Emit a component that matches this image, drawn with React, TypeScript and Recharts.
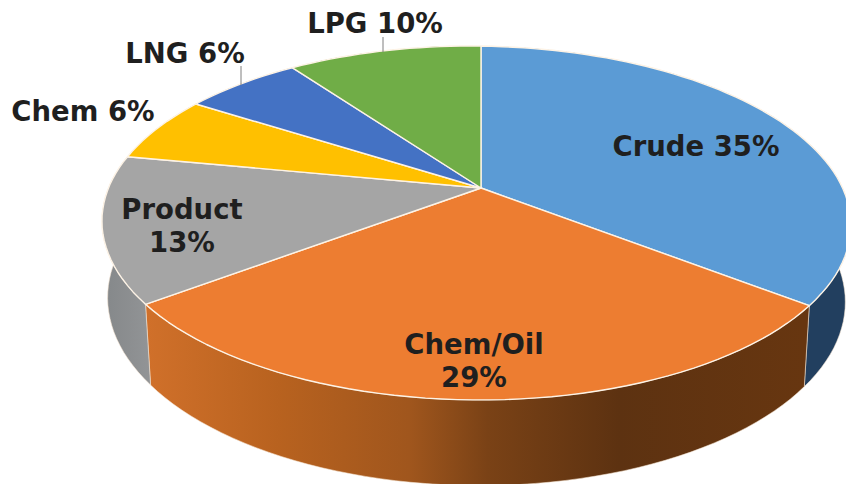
import React from 'react';
import { PieChart, Pie, Cell } from 'recharts';

const names = ['Crude', 'Chem/Oil', 'Product', 'Chem', 'LNG', 'LPG'];
const shares = [35, 29, 13, 6, 6, 10];
const topColors = ['#5b9bd5', '#ed7d31', '#a5a5a5', '#ffc000', '#4472c4', '#70ad47'];
const wallColors = ['#223f5f', 'url(#orangeWall)', 'url(#grayWall)', '#997300', '#264478', '#43682b'];

const chartData = names.map((name, i) => ({ name, value: shares[i] }));

// where each label sits, the original placed them by hand
const labelSpots = [
  { x: 696, y: 146, lines: ['Crude 35%'] },
  { x: 474, y: 344, lines: ['Chem/Oil', '29%'] },
  { x: 182, y: 209, lines: ['Product', '13%'] },
  { x: 83, y: 111, lines: ['Chem 6%'] },
  { x: 185, y: 53, lines: ['LNG 6%'] },
  { x: 375, y: 23, lines: ['LPG 10%'] },
];
const leaders: Record<number, number[]> = {
  4: [241, 66, 241, 85],
  5: [383, 37, 383, 52],
};

// tilted disc: far side shrinks, near side grows, right side a little smaller than left
const TILT = 0.198;
const SIDE_TILT = 0.012;
const DEPTH = 0.4632;
const SHEAR = 2.5;
const WALL = 75;
const WALL_SCALE = 0.985;
const WALL_STRETCH = 1.05;

const project = (cx: number, cy: number, r: number, deg: number) => {
  const a = (deg * Math.PI) / 180;
  const u = Math.cos(a);
  const v = Math.sin(a);
  const w = 1 + TILT * v + SIDE_TILT * u;
  return [cx + (r * u) / w, cy - (r * DEPTH * v) / w + SHEAR * u];
};

const arcPoints = (props: any, scaleX: number, scaleY: number, dy: number) => {
  const { cx, cy, outerRadius, startAngle, endAngle } = props;
  const pts: number[][] = [];
  const steps = Math.max(4, Math.ceil(Math.abs(endAngle - startAngle) / 2));
  for (let i = 0; i <= steps; i++) {
    const deg = startAngle + ((endAngle - startAngle) * i) / steps;
    const [x, y] = project(cx, cy, outerRadius, deg);
    pts.push([cx + (x - cx) * scaleX, cy + (y - cy) * scaleY + dy]);
  }
  return pts;
};

const toPath = (pts: number[][]) => pts.map((p, i) => `${i ? 'L' : 'M'}${p[0].toFixed(1)} ${p[1].toFixed(1)}`).join(' ');

const TopFace = (props: any) => {
  const d = `M${props.cx} ${props.cy} ${toPath(arcPoints(props, 1, 1, 0)).replace('M', 'L')} Z`;
  return <path d={d} fill={props.fill} stroke="#fdf3e6" strokeWidth={1.4} strokeLinejoin="round" />;
};

const SideWall = (props: any) => {
  const upper = arcPoints(props, 1, 1, 0);
  const lower = arcPoints(props, WALL_SCALE, WALL_STRETCH, WALL).reverse();
  const d = `${toPath(upper)} ${toPath(lower).replace('M', 'L')} Z`;
  return <path d={d} fill={props.fill} stroke="#f6e6d4" strokeWidth={0.8} strokeOpacity={0.7} strokeLinejoin="round" />;
};

const renderLabel = ({ index }: any) => {
  const spot = labelSpots[index];
  const line = leaders[index];
  return (
    <g key={names[index]}>
      {line && <line x1={line[0]} y1={line[1]} x2={line[2]} y2={line[3]} stroke="#7f7f7f" strokeWidth={1} />}
      {spot.lines.map((t, i) => (
        <text
          key={t}
          x={spot.x}
          y={spot.y + i * 33}
          textAnchor="middle"
          dominantBaseline="central"
          fontFamily="'DejaVu Sans', Verdana, sans-serif"
          fontWeight="bold"
          fontSize={27.5}
          fill="#1f1f1f"
        >
          {t}
        </text>
      ))}
    </g>
  );
};

export default function App() {
  return (
    <div style={{ position: 'absolute', left: 0, top: 0, width: 846, height: 484, overflow: 'hidden', background: '#fff' }}>
      <PieChart width={846} height={484} margin={{ top: 0, right: 0, bottom: 0, left: 0 }}>
        <defs>
          <linearGradient id="orangeWall" gradientUnits="userSpaceOnUse" x1="147" y1="0" x2="802" y2="0">
            <stop offset="0%" stopColor="#d0702a" />
            <stop offset="20%" stopColor="#b8621f" />
            <stop offset="40%" stopColor="#a0561d" />
            <stop offset="52%" stopColor="#7a4216" />
            <stop offset="72%" stopColor="#5d3211" />
            <stop offset="100%" stopColor="#673610" />
          </linearGradient>
          <linearGradient id="grayWall" gradientUnits="userSpaceOnUse" x1="105" y1="0" x2="150" y2="0">
            <stop offset="0%" stopColor="#85888a" />
            <stop offset="100%" stopColor="#929496" />
          </linearGradient>
        </defs>
        <Pie
          data={chartData}
          dataKey="value"
          nameKey="name"
          cx={481}
          cy={188}
          outerRadius={367}
          startAngle={90}
          endAngle={-270}
          shape={SideWall}
          isAnimationActive={false}
        >
          {wallColors.map((c, i) => (
            <Cell key={i} fill={c} />
          ))}
        </Pie>
        <Pie
          data={chartData}
          dataKey="value"
          nameKey="name"
          cx={481}
          cy={188}
          outerRadius={367}
          startAngle={90}
          endAngle={-270}
          shape={TopFace}
          label={renderLabel}
          labelLine={false}
          isAnimationActive={false}
        >
          {topColors.map((c, i) => (
            <Cell key={i} fill={c} />
          ))}
        </Pie>
      </PieChart>
    </div>
  );
}
